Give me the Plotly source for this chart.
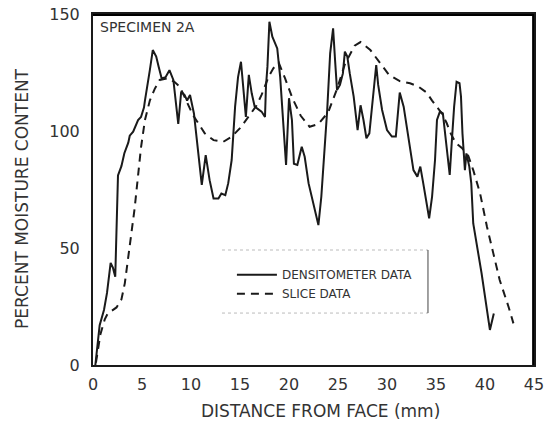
import plotly.graph_objects as go

# Densitometer data (solid line)
dens_x = [0.24, 0.68, 1.12, 1.43, 1.8, 2.04, 2.27, 2.55, 2.9, 3.2, 3.6, 3.75, 4.1, 4.4, 4.6, 4.9,
          5.2, 5.3, 5.5, 5.8, 6.1, 6.45, 6.7, 7.0, 7.4, 7.8, 8.2, 8.4, 8.7, 9.0, 9.35, 9.6, 9.9,
          10.3, 10.6, 11.1, 11.5, 11.9, 12.3, 12.8, 13.1, 13.5, 13.8, 14.15, 14.5, 14.8, 15.1,
          15.3, 15.6, 15.9, 16.2, 16.5, 16.9, 17.2, 17.55, 17.65, 17.8, 18.0, 18.3, 18.6, 18.8,
          19.1, 19.4, 19.7, 20.0, 20.3, 20.5, 20.85, 21.3, 21.6, 22.0, 22.3, 22.65, 23.0, 23.3,
          23.7, 23.9, 24.2, 24.5, 24.7, 24.9, 25.2, 25.5, 25.7, 25.95, 26.2, 26.6, 27.0, 27.3,
          27.6, 27.9, 28.2, 28.5, 28.9, 29.1, 29.5, 30.0, 30.5, 30.9, 31.3, 31.7, 32.0, 32.35,
          32.7, 33.1, 33.4, 33.7, 34.05, 34.3, 34.6, 34.9, 35.1, 35.4, 35.7, 35.9, 36.15, 36.4,
          36.6, 36.85, 37.1, 37.4, 37.55, 37.7, 37.95, 38.1, 38.4, 38.6, 38.8, 39.65, 40.5, 40.9]
dens_y = [0, 17, 23.5, 30.8, 43.6, 41.5, 37.7, 81, 85, 90.5, 95, 98, 99.7, 102.6, 104.7, 106,
          110, 113, 117.5, 126, 134.6, 131.8, 127.5, 122.5, 123, 126, 121.8, 114.7, 103, 116.8,
          115.4, 113, 115.4, 107.5, 96, 77, 89.7, 79, 71.2, 71.2, 73.3, 72.6, 77.7, 87.6, 110.4,
          123, 129.6, 120, 106, 124, 116, 110.4, 109, 108.3, 106, 119, 127.5, 146.7, 140.3,
          137.4, 135.3, 123, 104.7, 85.5, 114, 104.7, 86, 85.5, 93.3, 89, 77.6, 72, 66.2, 59.8,
          72, 94.7, 109, 133.2, 143.9, 130.3, 117.5, 119.7, 124.6, 133.9, 131.8, 124.6, 114.7,
          100.4, 111, 104.7, 96.9, 99, 113, 128.2, 119.7, 109, 100.4, 97.6, 97.6, 116.4, 110.4,
          101.8, 91.9, 83.3, 80.5, 84.8, 77.6, 67.7, 62.7, 72, 87.6, 104.7, 108.3, 107.5, 100.4,
          91.9, 81.2, 94.7, 110.4, 121, 120.4, 114.7, 99, 83.3, 90.4, 84.8, 77.6, 60.5, 39.2,
          15, 22]

# Slice data (dashed line)
slice_x = [0.3, 0.75, 1.2, 1.5, 2.4, 2.9, 3.25, 3.75, 4.25, 4.6, 4.9, 5.3, 5.8, 6.3, 6.8, 7.65,
           8.3, 8.85, 10.2, 10.75, 11.4, 12.3, 13.3, 14.15, 15.0, 15.85, 16.7, 17.2, 17.9, 18.4,
           18.95, 19.6, 20.35, 21.2, 22.1, 23.0, 24.0, 24.9, 25.7, 26.7, 27.3, 28.3, 29.3, 30.2,
           31.3, 32.35, 33.2, 34.05, 34.6, 35.1, 35.6, 36.1, 36.5, 37.0, 37.7, 38.3, 38.8, 39.5,
           40.2, 40.85, 41.5, 42.4, 42.9]
slice_y = [1, 13, 19.5, 22, 24.6, 28, 35, 50, 67, 81, 93, 104.7, 113, 118, 121.8, 122.5,
           121, 119, 106.8, 103.3, 99, 96.1, 95.4, 97.6, 101.2, 106, 111, 115.4, 123, 126.8,
           129.2, 122.5, 114, 106.5, 101.8, 103, 108, 118, 128.5, 136.5, 138, 134.6, 128.9, 124,
           121.3, 120.4, 119, 116.4, 113, 110, 107.5, 103.3, 99, 95, 92.5, 89.3, 83.3, 73.3,
           59.1, 47.7, 36.3, 24.9, 17.8]

x_ticks = [0, 5, 10, 15, 20, 25, 30, 35, 40, 45]
y_ticks = [0, 50, 100, 150]

FONT = "DejaVu Sans"
INK = "#1a1a1a"
TXT = "#333333"

fig = go.Figure()
fig.add_trace(go.Scatter(x=dens_x, y=dens_y, mode="lines", name="DENSITOMETER DATA",
                         line=dict(color=INK, width=2)))
fig.add_trace(go.Scatter(x=slice_x, y=slice_y, mode="lines", name="SLICE DATA",
                         line=dict(color=INK, width=2, dash="8px,6px")))

axis_common = dict(showline=True, linecolor=INK, linewidth=2, mirror="all", showgrid=False,
                   zeroline=False, ticks="", automargin=False,
                   tickfont=dict(family=FONT, size=16, color=TXT))

fig.update_xaxes(range=[0, 45], tickvals=x_ticks, ticklabelstandoff=4, **axis_common)
fig.update_yaxes(range=[0, 150], tickvals=y_ticks, ticklabelstandoff=8, **axis_common)

fig.update_layout(
    width=547, height=432,
    margin=dict(l=93, r=13, t=14, b=67),
    paper_bgcolor="white", plot_bgcolor="white",
    showlegend=True,
    legend=dict(x=0.315, y=0.23, xanchor="left", yanchor="middle",
                bgcolor="rgba(0,0,0,0)", borderwidth=0,
                font=dict(family=FONT, size=12, color=TXT), itemwidth=40),
    annotations=[
        dict(text="PERCENT MOISTURE CONTENT", xref="paper", yref="paper", x=-0.161, y=0.476,
             textangle=-90, showarrow=False, font=dict(family=FONT, size=17, color=TXT),
             xanchor="center", yanchor="middle"),
        dict(text="DISTANCE FROM FACE (mm)", xref="paper", yref="paper", x=0.515, y=-0.131,
             showarrow=False, font=dict(family=FONT, size=17, color=TXT),
             xanchor="center", yanchor="middle"),
        dict(text="SPECIMEN 2A", xref="paper", yref="paper", x=0.012, y=0.963,
             showarrow=False, font=dict(family=FONT, size=14, color=TXT),
             xanchor="left", yanchor="middle"),
    ],
    shapes=[
        # top and right frame edges, drawn explicitly
        dict(type="line", xref="paper", yref="paper", x0=0, x1=1, y0=0.997, y1=0.997,
             line=dict(color="#000000", width=2), layer="above"),
        dict(type="line", xref="paper", yref="paper", x0=0.998, x1=0.998, y0=0, y1=1,
             line=dict(color="#000000", width=2), layer="above"),
        # legend box (faint dotted top/bottom, solid right edge)
        dict(type="line", xref="paper", yref="paper", x0=0.2925, x1=0.7596, y0=0.3276, y1=0.3276,
             line=dict(color="#bbbbbb", width=1, dash="dot")),
        dict(type="line", xref="paper", yref="paper", x0=0.2925, x1=0.7596, y0=0.148, y1=0.148,
             line=dict(color="#bbbbbb", width=1, dash="dot")),
        dict(type="line", xref="paper", yref="paper", x0=0.7596, x1=0.7596, y0=0.148, y1=0.3276,
             line=dict(color="#444444", width=1)),
    ],
)

fig.write_html("out.html", config={"displayModeBar": False},
               post_script="document.body.style.margin='0';document.body.style.overflow='hidden';")
